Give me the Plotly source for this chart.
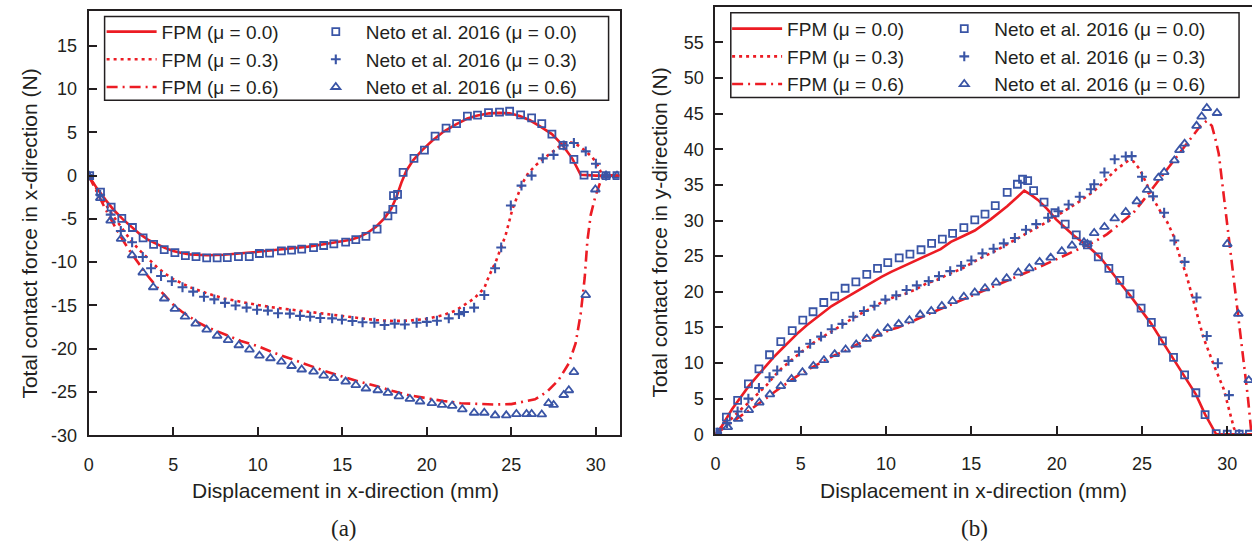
import plotly.graph_objects as go

# ---------------- Panel (a): contact force in x-direction ----------------
FPM_A0_X = [0, 0.5, 1, 1.5, 2, 2.5, 3, 3.5, 4, 4.5, 5, 5.5, 6, 7, 8, 9, 10, 11, 12, 13, 14, 15, 15.5, 16, 16.5,
            17, 17.5, 17.9, 18.2, 18.5, 18.8, 19.2, 19.7, 20.3, 21, 21.7, 22.4, 23, 23.7, 24.3, 24.9, 25.5,
            26.1, 26.7, 27.4, 28.0, 28.6, 29.1, 30, 31.4]
FPM_A0_Y = [0, -1.5, -2.8, -4.0, -5.0, -5.9, -6.7, -7.4, -7.9, -8.35, -8.7, -8.95, -9.1, -9.2, -9.15, -9.0,
            -8.8, -8.6, -8.4, -8.2, -7.9, -7.6, -7.4, -7.1, -6.6, -5.9, -4.9, -3.8, -2.5, -0.8, 0.6, 1.8, 2.9,
            4.0, 5.1, 5.9, 6.6, 6.95, 7.2, 7.25, 7.2, 6.9, 6.4, 5.7, 4.8, 3.6, 2.0, 0.1, 0, 0]

FPM_A3_X = [0, 0.5, 1, 1.5, 2, 2.5, 3, 3.5, 4, 4.5, 5, 6, 7, 8, 9, 10, 11, 12, 13, 14, 15, 16, 17, 18, 19,
            20, 21, 21.7, 22.1, 22.8, 23.4, 23.7, 24.07, 24.4, 24.66, 25.06, 25.65, 26.0, 26.5, 27.0, 27.5,
            28.0, 28.4, 28.8, 29.3, 29.8, 30.1, 30.4, 31.4]
FPM_A3_Y = [0, -1.7, -3.3, -4.8, -6.2, -7.5, -8.6, -9.6, -10.5, -11.3, -11.95, -12.9, -13.6, -14.2, -14.6,
            -14.95, -15.25, -15.5, -15.75, -16.0, -16.25, -16.5, -16.7, -16.8, -16.75, -16.55, -16.1, -15.6,
            -15.1, -14.2, -13.0, -11.5, -10.0, -8.3, -6.9, -3.9, -0.9, 0.3, 1.3, 2.1, 2.9, 3.6, 3.9, 3.7,
            3.0, 2.1, 1.2, 0, 0]

FPM_A6_X = [0, 0.5, 1, 1.5, 2, 2.5, 3, 3.5, 4, 4.5, 5, 5.5, 6, 6.5, 7, 8, 9, 10, 11, 12, 13, 14, 15, 16, 17,
            18, 19, 20, 21, 22, 23, 24, 25, 25.6, 26.4, 27.1, 27.8, 28.4, 28.8, 29.1, 29.34, 29.5, 29.7,
            29.97, 30.2, 30.4, 31.4]
FPM_A6_Y = [0, -2.0, -3.9, -5.7, -7.4, -8.9, -10.3, -11.6, -12.8, -13.9, -14.9, -15.7, -16.4, -17.0, -17.5,
            -18.3, -19.1, -19.7, -20.5, -21.2, -21.9, -22.6, -23.2, -23.8, -24.3, -24.9, -25.4, -25.75,
            -26.05, -26.3, -26.4, -26.45, -26.4, -26.2, -25.85, -25.0, -23.6, -21.7, -19.4, -16.0, -11.8,
            -7.5, -4.5, -2.4, -1.0, 0, 0]

NETO_A0_X = [0.06, 0.7, 1.33, 1.96, 2.59, 3.22, 3.84, 4.47, 5.1, 5.72, 6.35, 6.98, 7.6, 8.2, 8.86, 9.5, 10.1,
             10.7, 11.4, 12.0, 12.6, 13.3, 13.9, 14.5, 15.2, 15.8, 16.4, 17.06, 17.7, 17.99, 18.03, 18.27,
             18.6, 19.24, 19.86, 20.49, 21.14, 21.76, 22.4, 23.0, 23.65, 24.3, 24.9, 25.55, 26.2, 26.8,
             27.4, 28.06, 28.7, 29.3, 29.97, 30.6, 31.25]
NETO_A0_Y = [0, -1.9, -3.64, -4.93, -5.99, -7.2, -7.95, -8.56, -8.9, -9.24, -9.35, -9.5, -9.5, -9.48, -9.35,
             -9.35, -9.0, -8.95, -8.7, -8.6, -8.5, -8.33, -8.07, -7.88, -7.69, -7.39, -7.01, -6.17, -4.66,
             -3.9, -2.32, -2.17, 0.37, 2.0, 2.94, 4.56, 5.5, 6.0, 6.87, 6.99, 7.28, 7.33, 7.44, 7.02, 6.68,
             6.0, 4.79, 3.5, 1.88, 0.07, 0, 0, 0]

NETO_A3_X = [0.0, 0.68, 1.3, 1.9, 2.57, 3.2, 3.69, 4.28, 4.92, 5.55, 6.18, 6.82, 7.43, 8.06, 8.69, 9.34,
             9.96, 10.6, 11.2, 11.9, 12.5, 13.1, 13.7, 14.4, 14.98, 15.6, 16.2, 16.9, 17.5, 18.1, 18.7,
             19.4, 20.0, 20.6, 21.3, 21.9, 22.2, 22.8, 23.4, 24.04, 24.4, 24.97, 25.6, 26.2, 26.86, 27.5,
             28.1, 28.7, 29.4, 30.0, 30.6]
NETO_A3_Y = [0.0, -2.2, -4.5, -6.4, -7.7, -9.4, -10.7, -11.6, -12.2, -12.9, -13.4, -14.0, -14.3, -14.7,
             -15.0, -15.25, -15.5, -15.6, -15.9, -15.95, -16.2, -16.3, -16.45, -16.5, -16.65, -16.8, -16.95,
             -17.0, -17.26, -17.1, -17.2, -17.0, -16.9, -16.77, -16.5, -16.0, -15.75, -15.25, -13.8, -10.7,
             -8.3, -3.45, -1.15, 0.0, 2.0, 2.4, 3.5, 3.77, 2.8, 1.38, 0.0]

NETO_A6_X = [0.0, 0.69, 1.3, 1.92, 2.57, 3.2, 3.82, 4.47, 5.1, 5.7, 6.33, 6.98, 7.6, 8.25, 8.88, 9.51, 10.1,
             10.75, 11.4, 12.0, 12.6, 13.3, 13.9, 14.5, 15.2, 15.8, 16.4, 17.1, 17.7, 18.35, 19.0, 19.6,
             20.3, 20.9, 21.5, 22.1, 22.8, 23.4, 24.04, 24.7, 25.3, 25.9, 26.2, 26.8, 27.2, 27.5, 28.1,
             28.4, 28.7, 29.4, 29.97, 30.6, 31.25]
NETO_A6_Y = [0.0, -2.6, -5.2, -7.3, -9.2, -11.2, -12.9, -14.2, -15.4, -16.3, -17.1, -17.8, -18.5, -19.0,
             -19.6, -20.1, -20.8, -21.1, -21.5, -22.0, -22.4, -22.65, -23.1, -23.4, -23.8, -24.2, -24.6,
             -24.8, -25.1, -25.5, -25.8, -26.1, -26.3, -26.5, -26.6, -27.0, -27.4, -27.4, -27.7, -27.7,
             -27.55, -27.55, -27.55, -27.6, -26.3, -26.5, -25.35, -24.8, -22.7, -13.8, -1.6, 0.0, 0.0]

# ---------------- Panel (b): contact force in y-direction ----------------
FPM_B0_X = [0, 0.39, 0.97, 1.5, 1.95, 2.5, 2.92, 3.4, 3.9, 4.4, 4.87, 5.35, 5.84, 6.3, 6.81, 7.3, 7.79, 8.3,
            8.76, 9.25, 9.73, 10.3, 11.0, 11.8, 12.66, 13.2, 13.8, 14.5, 15.2, 16.15, 17.1, 17.7, 18.1,
            18.5, 18.9, 19.45, 19.95, 20.5, 21.0, 21.5, 22.0, 22.6, 23.26, 23.7, 24.3, 24.95, 25.55, 26.2,
            26.85, 27.5, 28.16, 28.7, 29.1, 29.35, 31.5]
FPM_B0_Y = [0, 1.2, 3.5, 5.2, 6.75, 8.3, 9.5, 10.8, 12.0, 13.2, 14.3, 15.3, 16.2, 17.1, 18.0, 18.7, 19.4,
            20.1, 20.8, 21.5, 22.1, 22.8, 23.6, 24.5, 25.4, 26.0, 27.0, 27.8, 28.6, 30.2, 32.0, 33.3, 34.2,
            33.6, 32.9, 31.6, 30.2, 29.0, 27.9, 27.0, 26.05, 24.7, 22.6, 21.3, 19.5, 17.5, 15.5, 13.0,
            10.6, 8.2, 5.6, 2.8, 1.0, 0, 0]

FPM_B3_X = [0, 0.5, 1, 1.5, 1.95, 2.5, 3, 3.5, 3.9, 4.5, 5, 5.84, 6.5, 7.2, 7.79, 8.5, 9.1, 9.73, 10.5,
            11.1, 11.7, 12.4, 13.0, 13.6, 14.4, 15.0, 15.6, 16.3, 16.9, 17.5, 18.2, 18.8, 19.5, 20.1, 20.7,
            21.35, 22.0, 22.5, 23.0, 23.5, 24.2, 24.5, 24.9, 25.3, 25.7, 26.1, 26.5, 26.9, 27.2, 27.6,
            28.1, 28.6, 29.2, 29.8, 30.1, 30.4, 30.6, 31.5]
FPM_B3_Y = [0, 1.2, 2.4, 3.5, 4.45, 5.7, 6.9, 8.3, 9.3, 10.5, 11.5, 13.0, 14.0, 15.0, 15.9, 16.9, 17.7,
            18.5, 19.3, 19.7, 20.3, 21.2, 21.7, 22.4, 23.2, 24.0, 24.8, 25.6, 26.4, 27.2, 28.2, 29.0, 29.9,
            30.8, 31.7, 32.7, 33.8, 34.8, 36.0, 37.2, 38.4, 38.3, 37.1, 35.0, 32.9, 31.2, 29.7, 27.6, 25.1,
            22.4, 18.0, 13.6, 9.8, 6.3, 3.5, 0.8, 0, 0]

FPM_B6_X = [0, 0.5, 1, 1.5, 1.95, 2.5, 3, 3.5, 4, 4.5, 5, 5.5, 6, 6.5, 7, 7.6, 8.3, 9, 9.7, 10.3, 10.7, 11.4,
            12.0, 12.7, 13.4, 14.0, 14.6, 15.2, 15.8, 16.4, 17.1, 17.9, 18.8, 19.65, 20.5, 21.4, 22.2,
            22.96, 23.7, 24.5, 25.1, 25.7, 26.3, 26.85, 27.4, 28.0, 28.4, 28.8, 29.1, 29.3, 29.5, 29.8,
            30.1, 30.35, 30.74, 31.0, 31.2, 31.4]
FPM_B6_Y = [0, 0.9, 1.8, 2.6, 3.3, 4.2, 5.1, 6.0, 6.9, 7.7, 8.5, 9.2, 9.9, 10.5, 11.1, 11.7, 12.6, 13.4,
            14.1, 14.7, 15.0, 15.7, 16.4, 17.1, 17.8, 18.4, 19.0, 19.6, 20.2, 20.9, 21.6, 22.4, 23.3, 24.2,
            25.1, 26.05, 27.0, 28.1, 29.5, 31.1, 32.9, 34.8, 36.6, 38.45, 40.2, 42.1, 43.2, 44.0, 43.3,
            41.5, 39.4, 33.4, 27.4, 22.8, 14.6, 9.5, 5.4, 0.5]

NETO_B0_X = [0.1, 0.64, 1.3, 1.93, 2.55, 3.17, 3.83, 4.5, 5.12, 5.72, 6.35, 6.99, 7.6, 8.23, 8.87, 9.5,
             10.1, 10.77, 11.4, 12.05, 12.67, 13.3, 13.9, 14.56, 15.2, 15.8, 16.4, 17.1, 17.7, 18.0, 18.3,
             18.65, 19.26, 19.9, 20.5, 21.15, 21.8, 22.44, 23.06, 23.7, 24.3, 24.95, 25.55, 26.2, 26.85,
             27.5, 28.16, 28.7, 29.35, 30.0, 30.7, 31.3]
NETO_B0_Y = [0.3, 2.4, 4.77, 7.07, 9.18, 11.16, 13.0, 14.56, 16.03, 17.2, 18.5, 19.4, 20.5, 21.4, 22.45,
             23.3, 24.1, 24.75, 25.3, 25.9, 26.8, 27.4, 28.2, 29.0, 30.1, 30.9, 32.1, 33.95, 35.1, 35.8,
             35.6, 34.2, 32.6, 31.1, 29.5, 28.0, 26.6, 24.9, 23.3, 21.6, 19.7, 17.7, 15.7, 13.1, 10.8,
             8.35, 5.83, 2.75, 0.08, 0, 0, 0]

NETO_B3_X = [0.1, 0.68, 1.3, 1.93, 2.55, 3.17, 3.62, 4.28, 4.9, 5.55, 6.19, 6.81, 7.44, 8.08, 8.7, 9.32,
             9.96, 10.6, 11.2, 11.8, 12.5, 13.1, 13.76, 14.4, 15.0, 15.65, 16.3, 16.9, 17.55, 18.2, 18.8,
             19.5, 20.1, 20.7, 21.35, 22.0, 22.2, 22.8, 23.4, 24.05, 24.4, 25.0, 25.65, 26.3, 26.9, 27.5,
             28.2, 28.8, 29.45, 30.1, 30.7]
NETO_B3_Y = [0.2, 1.56, 3.2, 5.0, 6.5, 8.0, 8.96, 10.3, 11.6, 12.7, 13.7, 14.75, 15.5, 16.5, 17.3, 18.05,
             18.9, 19.5, 20.25, 20.9, 21.5, 22.2, 22.9, 23.65, 24.4, 25.4, 26.05, 26.8, 27.55, 28.7, 29.5,
             30.4, 31.3, 32.25, 33.35, 34.4, 35.1, 36.75, 38.6, 39.0, 39.05, 36.15, 33.4, 31.1, 27.2, 24.2,
             19.2, 13.8, 9.97, 5.5, 0]

NETO_B6_X = [0.1, 0.72, 1.33, 1.95, 2.57, 3.19, 3.83, 4.46, 5.1, 5.74, 6.36, 6.99, 7.63, 8.25, 8.87, 9.5,
             10.1, 10.74, 11.37, 12.0, 12.65, 13.27, 13.9, 14.56, 15.2, 15.8, 16.45, 17.07, 17.75, 18.4,
             19.0, 19.65, 20.3, 20.9, 21.6, 21.8, 22.2, 22.8, 23.4, 24.05, 24.7, 25.3, 25.96, 26.3, 26.9,
             27.2, 27.5, 28.2, 28.5, 28.8, 29.4, 30.0, 30.65, 31.26]
NETO_B6_Y = [0.2, 1.0, 2.15, 3.4, 4.45, 5.6, 6.75, 7.76, 8.7, 9.6, 10.4, 11.25, 11.9, 12.6, 13.4, 14.1,
             14.9, 15.5, 16.0, 16.8, 17.3, 18.0, 18.7, 19.3, 19.9, 20.5, 21.3, 21.9, 22.7, 23.3, 24.2, 24.8,
             25.7, 26.5, 26.95, 26.7, 28.25, 29.1, 30.3, 31.2, 32.7, 34.3, 36.0, 36.8, 38.45, 39.9, 40.8,
             43.3, 44.6, 45.8, 45.1, 26.7, 16.9, 7.6]

# ---------------- tick labels ----------------
X_TICKS = [0, 5, 10, 15, 20, 25, 30]
X_TICK_TEXT = ["0", "5", "10", "15", "20", "25", "30"]
YA_TICKS = [-30, -25, -20, -15, -10, -5, 0, 5, 10, 15]
YA_TICK_TEXT = ["-30", "-25", "-20", "-15", "-10", "-5", "0", "5", "10", "15"]
YB_TICKS = [0, 5, 10, 15, 20, 25, 30, 35, 40, 45, 50, 55]
YB_TICK_TEXT = ["0", "5", "10", "15", "20", "25", "30", "35", "40", "45", "50", "55"]

FPM_NAMES = ["FPM (\u03bc = 0.0)", "FPM (\u03bc = 0.3)", "FPM (\u03bc = 0.6)"]
NETO_NAMES = ["Neto et al. 2016 (\u03bc = 0.0)", "Neto et al. 2016 (\u03bc = 0.3)", "Neto et al. 2016 (\u03bc = 0.6)"]

# ---------------- styling ----------------
RED = "#ec1c24"
BLUE = "#3a55a6"
INK = "#231f20"
W, H = 1252, 550
SANS = "Liberation Sans, Arial, sans-serif"

DASHES = ["solid", "3px,4px", "11px,5px,2px,5px"]
LWIDTH = [2.6, 2.6, 2.6]
SYMBOLS = ["square-open", "cross-thin-open", "triangle-up-open"]
MSIZE = [7, 7, 8]
MLINE = [1.8, 2.1, 1.8]

fig = go.Figure()

panels = [
    ("x", "y", [(FPM_A0_X, FPM_A0_Y), (FPM_A3_X, FPM_A3_Y), (FPM_A6_X, FPM_A6_Y)],
     [(NETO_A0_X, NETO_A0_Y), (NETO_A3_X, NETO_A3_Y), (NETO_A6_X, NETO_A6_Y)], "legend", "legend2"),
    ("x2", "y2", [(FPM_B0_X, FPM_B0_Y), (FPM_B3_X, FPM_B3_Y), (FPM_B6_X, FPM_B6_Y)],
     [(NETO_B0_X, NETO_B0_Y), (NETO_B3_X, NETO_B3_Y), (NETO_B6_X, NETO_B6_Y)], "legend3", "legend4"),
]

for xa, ya, fpm, neto, lg1, lg2 in panels:
    for i, (xs, ys) in enumerate(fpm):
        fig.add_trace(go.Scatter(x=xs, y=ys, mode="lines", name=FPM_NAMES[i], xaxis=xa, yaxis=ya,
                                 legend=lg1, line=dict(color=RED, width=LWIDTH[i], dash=DASHES[i])))
    for i, (xs, ys) in enumerate(neto):
        assert len(xs) == len(ys)
        fig.add_trace(go.Scatter(x=xs, y=ys, mode="markers", name=NETO_NAMES[i], xaxis=xa, yaxis=ya,
                                 legend=lg2,
                                 marker=dict(symbol=SYMBOLS[i], size=MSIZE[i], color=BLUE,
                                             line=dict(color=BLUE, width=MLINE[i]))))


def px_x(p):
    return p / W


def px_y(p):
    return 1 - p / H


axis_common = dict(showline=True, linecolor=INK, linewidth=2, mirror=True, ticks="inside", ticklen=8,
                   tickwidth=1.6, tickcolor=INK, showgrid=False, zeroline=False,
                   tickfont=dict(family=SANS, size=18, color=INK))

legend_common = dict(font=dict(family=SANS, size=19, color=INK), bgcolor="rgba(0,0,0,0)",
                     borderwidth=0, xanchor="left", yanchor="top", itemwidth=50, tracegroupgap=0,
                     orientation="v")

fig.update_layout(
    width=W, height=H, margin=dict(l=0, r=0, t=0, b=0),
    paper_bgcolor="white", plot_bgcolor="white", showlegend=True,
    xaxis=dict(axis_common, domain=[px_x(84), px_x(617)], range=[0, 31.4], tickvals=X_TICKS,
               ticktext=X_TICK_TEXT, anchor="y", ticklabelstandoff=12),
    yaxis=dict(axis_common, domain=[px_y(443.3), px_y(11)], range=[-30, 19.05], tickvals=YA_TICKS,
               ticktext=YA_TICK_TEXT, anchor="x", ticklabelstandoff=6),
    xaxis2=dict(axis_common, domain=[px_x(713.3), 1.0], range=[0, 31.45], tickvals=X_TICKS,
                ticktext=X_TICK_TEXT, anchor="y2", ticklabelstandoff=12),
    yaxis2=dict(axis_common, domain=[px_y(442.3), px_y(7)], range=[0, 60], tickvals=YB_TICKS,
                ticktext=YB_TICK_TEXT, anchor="x2", mirror=False, ticklabelstandoff=6),
    legend=dict(legend_common, x=px_x(97), y=px_y(13)),
    legend2=dict(legend_common, x=px_x(302), y=px_y(13)),
    legend3=dict(legend_common, x=px_x(725), y=px_y(10)),
    legend4=dict(legend_common, x=px_x(933), y=px_y(10)),
    shapes=[
        dict(type="rect", xref="paper", yref="paper", x0=px_x(100), x1=px_x(606), y0=px_y(102),
             y1=px_y(16.7), line=dict(color=INK, width=1.5)),
        dict(type="rect", xref="paper", yref="paper", x0=px_x(728.7), x1=px_x(1239), y0=px_y(99.3),
             y1=px_y(13), line=dict(color=INK, width=1.5)),
    ],
    annotations=[
        dict(text="Displacement in x-direction (mm)", xref="paper", yref="paper", x=px_x(341.5),
             y=px_y(500), xanchor="center", yanchor="middle", showarrow=False,
             font=dict(family=SANS, size=21, color=INK)),
        dict(text="Displacement in x-direction (mm)", xref="paper", yref="paper", x=px_x(972),
             y=px_y(500), xanchor="center", yanchor="middle", showarrow=False,
             font=dict(family=SANS, size=21, color=INK)),
        dict(text="Total contact force in x-direction (N)", xref="paper", yref="paper", x=px_x(25),
             y=px_y(238), xanchor="center", yanchor="middle", showarrow=False, textangle=-90,
             font=dict(family=SANS, size=21, color=INK)),
        dict(text="Total contact force in y-direction (N)", xref="paper", yref="paper", x=px_x(657.5),
             y=px_y(237), xanchor="center", yanchor="middle", showarrow=False, textangle=-90,
             font=dict(family=SANS, size=21, color=INK)),
        dict(text="(a)", xref="paper", yref="paper", x=px_x(340), y=px_y(538), xanchor="center",
             yanchor="middle", showarrow=False, font=dict(family="Liberation Serif, serif", size=23, color=INK)),
        dict(text="(b)", xref="paper", yref="paper", x=px_x(973), y=px_y(538), xanchor="center",
             yanchor="middle", showarrow=False, font=dict(family="Liberation Serif, serif", size=23, color=INK)),
    ],
)

fig.write_html("out.html")
